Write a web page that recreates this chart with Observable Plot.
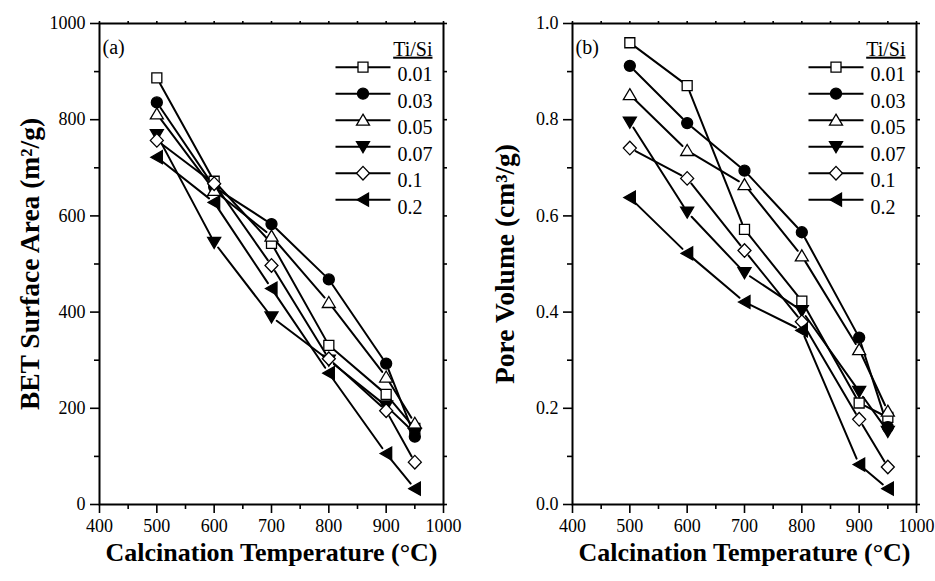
<!DOCTYPE html>
<html>
<head>
<meta charset="utf-8">
<script src="https://cdn.jsdelivr.net/npm/d3@7"></script>
<script src="https://cdn.jsdelivr.net/npm/@observablehq/plot@0.6"></script>
<style>
  html, body { margin: 0; padding: 0; background: white; }
  #wrap { display: flex; width: 935px; height: 581px; }
</style>
</head>
<body>
<div id="wrap"></div>
<script>
// ---- data ----
const temps = [500, 600, 700, 800, 900, 950];
const tiSi = ["0.01", "0.03", "0.05", "0.07", "0.1", "0.2"];

const bet001 = [887, 672, 543, 331, 229, 158];
const bet003 = [836, 660, 583, 468, 293, 141];
const bet005 = [812, 653, 558, 420, 265, 169];
const bet007 = [769, 545, 390, 300, 205, 148];
const bet01  = [757, 667, 497, 303, 195, 88];
const bet02  = [722, 628, 449, 273, 106, 33];

const pv001 = [0.960, 0.871, 0.572, 0.423, 0.211, 0.181];
const pv003 = [0.912, 0.793, 0.694, 0.566, 0.347, 0.161];
const pv005 = [0.852, 0.736, 0.665, 0.517, 0.322, 0.194];
const pv007 = [0.795, 0.608, 0.482, 0.403, 0.235, 0.152];
const pv01  = [0.741, 0.678, 0.528, 0.380, 0.177, 0.078];
const pv02  = [0.638, 0.522, 0.421, 0.362, 0.083, 0.033];

const xTicks = [400, 500, 600, 700, 800, 900, 1000];
const xMinor = [450, 550, 650, 750, 850, 950];
const betTicks = [0, 200, 400, 600, 800, 1000];
const betMinor = [100, 300, 500, 700, 900];
const pvTicks = [0, 0.2, 0.4, 0.6, 0.8, 1.0];
const pvMinor = [0.1, 0.3, 0.5, 0.7, 0.9];

// ---- marker shapes ----
const poly = (pts) => ({draw(c) { c.moveTo(pts[0][0], pts[0][1]); for (let i = 1; i < pts.length; i++) c.lineTo(pts[i][0], pts[i][1]); c.closePath(); }});
const symSquare = poly([[-5, -5], [5, -5], [5, 5], [-5, 5]]);
const symCircle = {draw(c) { c.moveTo(5.5, 0); c.arc(0, 0, 5.5, 0, 2 * Math.PI); }};
const symTriUp = poly([[0, -6], [6.5, 5], [-6.5, 5]]);
const symTriDown = poly([[0, 6], [6.5, -5], [-6.5, -5]]);
const symDiamond = poly([[0, -6.8], [6.5, 0], [0, 6.8], [-6.5, 0]]);
const symTriLeft = poly([[-6, 0], [5.5, -6.5], [5.5, 6.5]]);
const symLine = {draw(c) { c.moveTo(-27.5, 0); c.lineTo(27.5, 0); }};

const symbols = [symSquare, symCircle, symTriUp, symTriDown, symDiamond, symTriLeft];
const fills = ["white", "black", "white", "black", "white", "black"];

const FONT = "'Liberation Serif', 'Times New Roman', Times, serif";

function panel({series, yDomain, yTicks, yMinor, yFormat, yLabel, tag, width, marginLeft, marginRight, titleDx}) {
  const segs = [];
  const marks = [];
  series.forEach((vals, s) => {
    for (let i = 0; i < temps.length - 1; i++) {
      segs.push({x1: temps[i], y1: vals[i], x2: temps[i + 1], y2: vals[i + 1], s});
    }
  });
  marks.push(Plot.arrow(segs, {x1: "x1", y1: "y1", x2: "x2", y2: "y2", headLength: 0, inset: 6.5, stroke: "black", strokeWidth: 2}));
  series.forEach((vals, s) => {
    const pts = temps.map((t, i) => ({t, v: vals[i]}));
    marks.push(Plot.dot(pts, {x: "t", y: "v", symbol: symbols[s], r: 5, fill: fills[s], stroke: "black", strokeWidth: 1.3}));
  });
  // axes
  marks.push(
    Plot.axisX({ticks: xTicks, anchor: "bottom", tickSize: 9, tickPadding: 6, strokeWidth: 1.6, label: null, fontSize: 18, tickFormat: d => String(d)}),
    Plot.axisX({ticks: xMinor, anchor: "bottom", tickSize: 5, strokeWidth: 1.6, label: null, tickFormat: () => ""}),
    Plot.axisX({ticks: xTicks.concat(xMinor), anchor: "top", tickSize: 3, strokeWidth: 1.6, label: null, tickFormat: () => ""}),
    Plot.axisY({ticks: yTicks, anchor: "left", tickSize: 9, tickPadding: 5, strokeWidth: 1.6, label: null, tickFormat: yFormat, fontSize: 18}),
    Plot.axisY({ticks: yMinor, anchor: "left", tickSize: 5, strokeWidth: 1.6, label: null, tickFormat: () => ""}),
    Plot.axisY({ticks: yTicks.concat(yMinor), anchor: "right", tickSize: 3, strokeWidth: 1.6, label: null, tickFormat: () => ""}),
    Plot.frame({stroke: "black", strokeWidth: 2})
  );
  // titles
  marks.push(
    Plot.text([yLabel], {text: d => d, frameAnchor: "left", textAnchor: "middle", dx: titleDx, rotate: -90, fontSize: 27.5, fontWeight: "bold", fontFamily: FONT}),
    Plot.text(["Calcination Temperature (\u00B0C)"], {text: d => d, frameAnchor: "bottom", dy: 56, fontSize: 26, fontWeight: "bold", fontFamily: FONT}),
    Plot.text([tag], {text: d => d, frameAnchor: "top-left", textAnchor: "start", dx: 3, dy: 16, fontSize: 20, fontFamily: FONT})
  );
  // legend
  marks.push(Plot.text(["Ti/Si"], {text: d => d, frameAnchor: "top-right", textAnchor: "end", dx: -11, dy: 18, fontSize: 20, fontFamily: FONT}));
  tiSi.forEach((k, i) => {
    const dy = 43.7 + 26.5 * i;
    marks.push(
      Plot.dot([k], {frameAnchor: "top-right", dx: -80.5, dy, symbol: symLine, r: 5, fill: "none", stroke: "black", strokeWidth: 2}),
      Plot.dot([k], {frameAnchor: "top-right", dx: -80.5, dy, symbol: symbols[i], r: 5, fill: fills[i], stroke: "black", strokeWidth: 1.3}),
      Plot.text([k], {text: d => d, frameAnchor: "top-right", textAnchor: "start", dx: -46, dy, fontSize: 20, fontFamily: FONT})
    );
  });
  const svg = Plot.plot({
    width, height: 581,
    marginLeft, marginRight, marginTop: 23, marginBottom: 77,
    x: {domain: [400, 1000], label: null},
    y: {domain: yDomain, label: null},
    style: {fontFamily: FONT, fontSize: "18px", color: "black", background: "white", overflow: "visible"},
    marks
  });
  svg.querySelectorAll("text").forEach(t => {
    if (t.textContent === "Ti/Si") t.setAttribute("text-decoration", "underline");
  });
  return svg;
}

const wrap = document.getElementById("wrap");
wrap.appendChild(panel({
  series: [bet001, bet003, bet005, bet007, bet01, bet02],
  yDomain: [0, 1000], yTicks: betTicks, yMinor: betMinor, yFormat: d => String(d),
  yLabel: "BET Surface Area (m\u00B2/g)", tag: "(a)",
  width: 467, marginLeft: 99, marginRight: 24, titleDx: -69
}));
wrap.appendChild(panel({
  series: [pv001, pv003, pv005, pv007, pv01, pv02],
  yDomain: [0, 1], yTicks: pvTicks, yMinor: pvMinor, yFormat: d => d.toFixed(1),
  yLabel: "Pore Volume (cm\u00B3/g)", tag: "(b)",
  width: 468, marginLeft: 105, marginRight: 19, titleDx: -67
}));
</script>
</body>
</html>
